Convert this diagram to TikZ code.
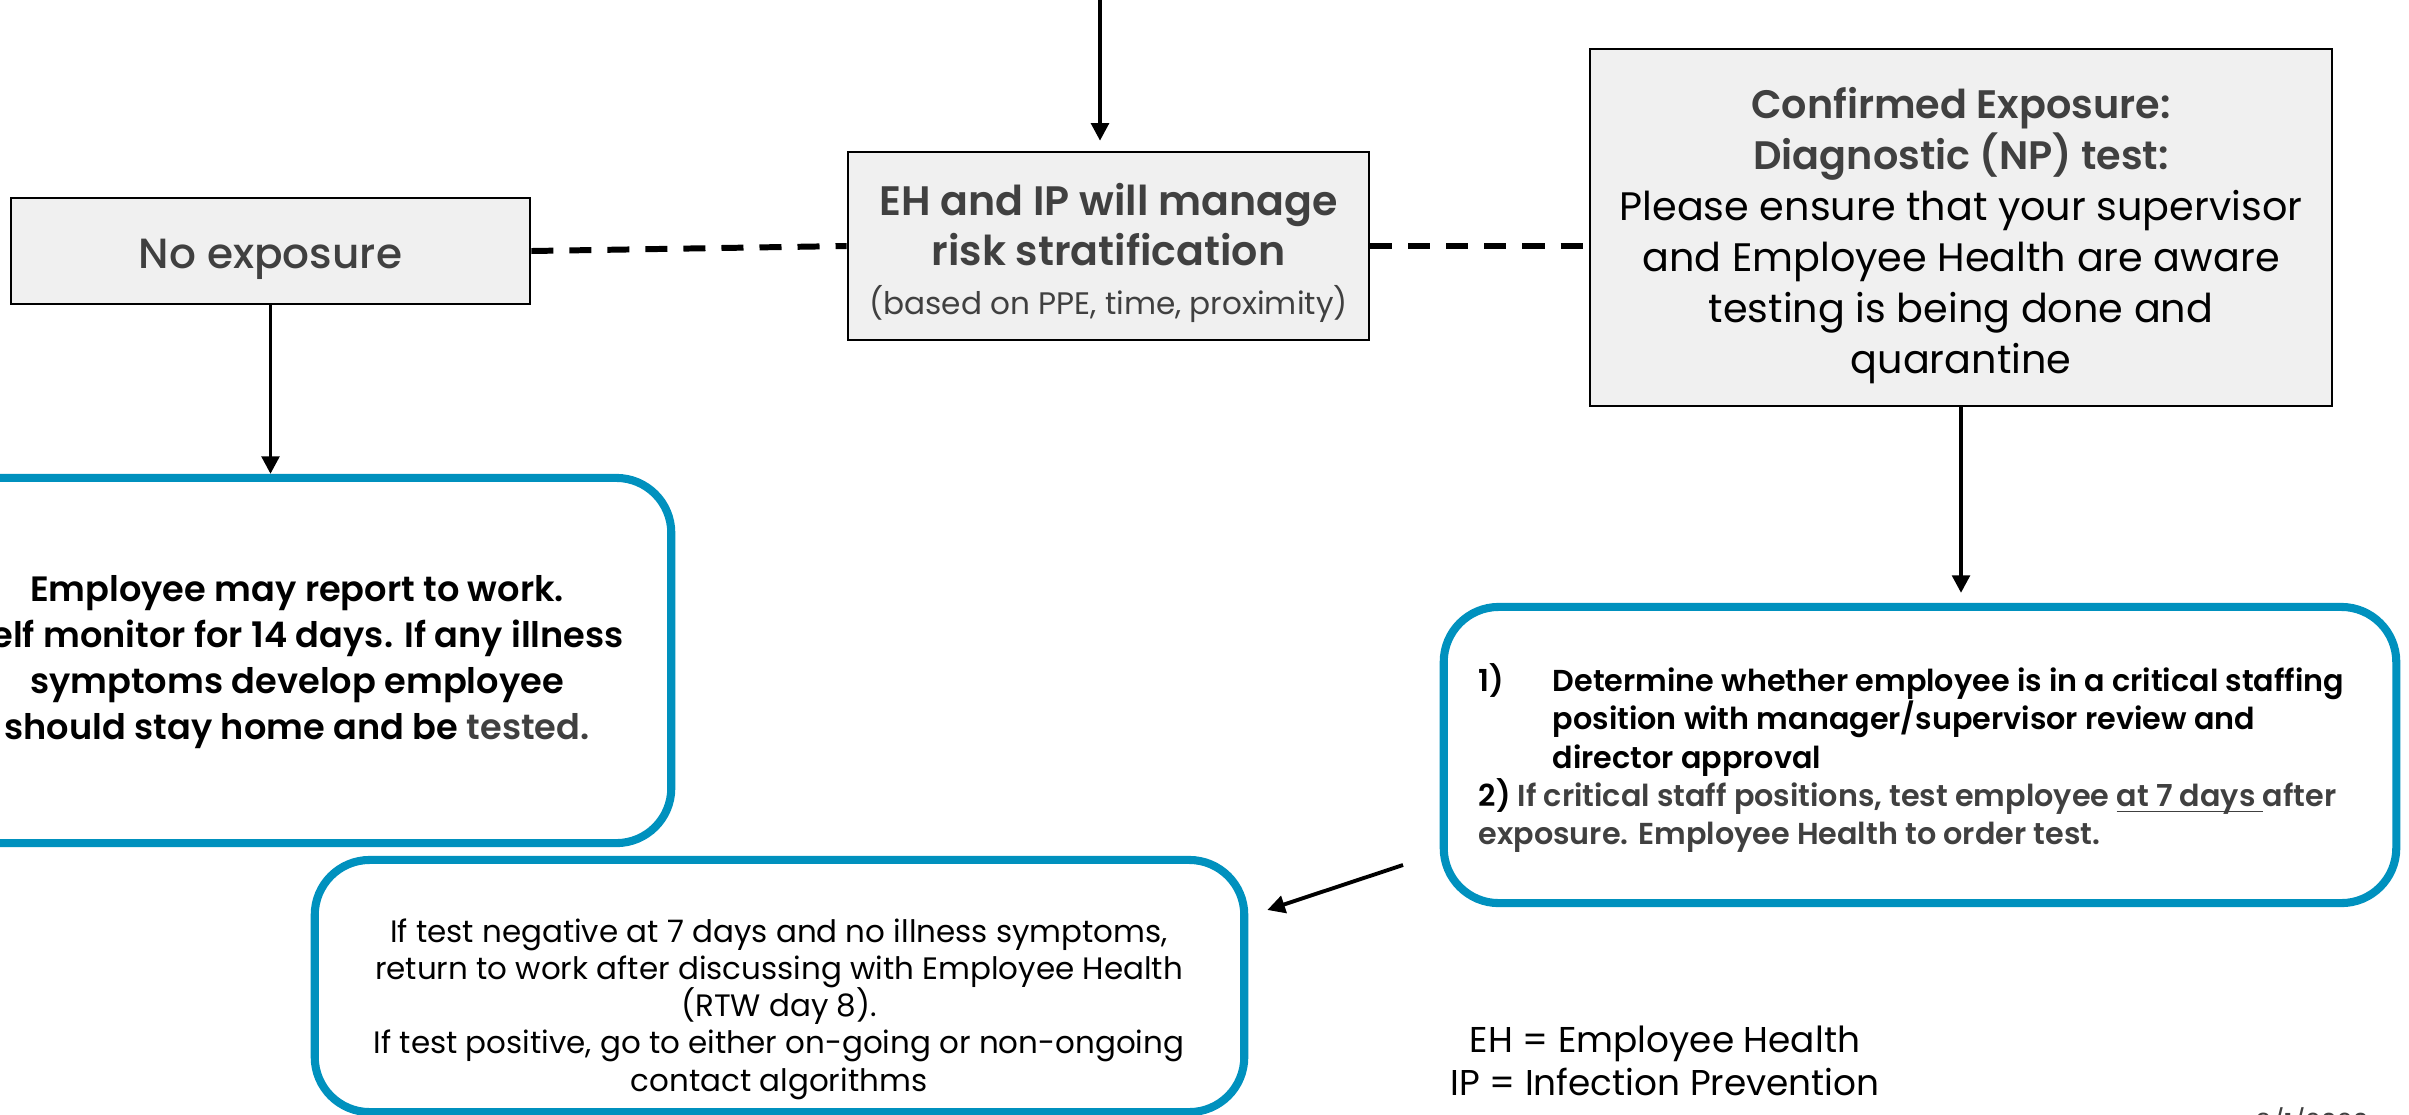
\documentclass[tikz,border=0pt]{standalone}
\usepackage{fontspec}
\setmainfont{Poppins}[BoldFont={Poppins SemiBold}]
\newfontfamily\popmed{Poppins Medium}
\usetikzlibrary{arrows.meta}
\definecolor{tgray}{RGB}{64,64,64}
\definecolor{boxfill}{RGB}{240,240,240}
\definecolor{cblue}{RGB}{0,145,190}
\newcommand\myul[1]{\setbox0\hbox{#1}\rlap{\rule[-1.8pt]{\wd0}{0.55pt}}\box0}
\begin{document}
\begin{tikzpicture}[x=0.01cm,y=-0.01cm,
  graybox/.style={draw=black,line width=0.7pt,fill=boxfill,inner sep=0pt},
  bluebox/.style={draw=cblue,line width=2.3pt,rounded corners=0.55cm,inner sep=0pt},
  txt/.style={inner sep=0pt,align=center},
  arr/.style={line width=1.1pt,-{Triangle[length=5pt,width=5pt]}},
  dashline/.style={line width=1.7pt,dash pattern=on 0.22cm off 0.16cm}]
\useasboundingbox (0,0) rectangle (2409,1114);
\clip (0,0) rectangle (2409,1114);

% gray boxes
\node[graybox,minimum width=5.19cm,minimum height=1.06cm] (noexp) at (270.5,251) {};
\node[txt,text=tgray,font=\fontsize{12}{15}\selectfont\popmed] (noexptxt) at (270.5,259) {No exposure};
\node[graybox,minimum width=5.21cm,minimum height=1.88cm] (eh) at (1108.5,246) {};
\node[txt,text=tgray,font=\fontsize{11.7}{14}\selectfont] (ehtxt) at (1108.5,253)
  {\bfseries EH and IP will manage\\
   \bfseries risk stratification\\
   \fontsize{8.85}{13.4}\selectfont (based on PPE, time, proximity)};
\node[graybox,minimum width=7.42cm,minimum height=3.57cm] (conf) at (1961,227.5) {};
\node[txt,font=\fontsize{11.3}{14.5}\selectfont] (conftxt) at (1961,236)
  {\textcolor{tgray}{\bfseries Confirmed Exposure:}\\
   \textcolor{tgray}{\bfseries Diagnostic (NP) test:}\\
   Please ensure that your supervisor\\
   and Employee Health are aware\\
   testing is being done and\\
   quarantine};

% blue boxes
\node[bluebox,minimum width=9.71cm,minimum height=3.65cm] (lbox) at (185.5,660.5) {};
\node[txt,font=\fontsize{10}{13}\selectfont\bfseries] (ltxt) at (297,662)
  {Employee may report to work.\\
   Self monitor for 14 days. If any illness\\
   symptoms develop employee\\
   should stay home and be \textcolor{tgray}{tested.}};

\node[bluebox,minimum width=9.52cm,minimum height=2.96cm] (rbox) at (1920,755) {};
\node[inner sep=0pt,anchor=west,align=left,font=\fontsize{8.6}{10.85}\selectfont\bfseries] (rtxt) at (1478,758)
  {\makebox[0.74cm][l]{1)}Determine whether employee is in a critical staffing\\
   \hspace*{0.74cm}position with manager/supervisor review and\\
   \hspace*{0.74cm}director approval\\
   2) \textcolor{tgray}{If critical staff positions, test employee \myul{at 7 days\ }after}\\
   \textcolor{tgray}{exposure. Employee Health to order test.}};

\node[bluebox,minimum width=9.29cm,minimum height=2.52cm] (bbox) at (779.5,986) {};
\node[txt,font=\fontsize{8.8}{10.6}\selectfont] (btxt) at (779,1009)
  {If test negative at 7 days and no illness symptoms,\\
   return to work after discussing with Employee Health\\
   (RTW day 8).\\
   If test positive, go to either on-going or non-ongoing\\
   contact algorithms};

% legend and date
\node[txt,font=\fontsize{10.2}{12.2}\selectfont] (leg) at (1665,1061)
  {EH = Employee Health\\ IP = Infection Prevention};
\node[inner sep=0pt,anchor=north,text=tgray,font=\fontsize{7.5}{9}\selectfont] (date) at (2312,1107) {9/1/2020};

% connectors
\coordinate (topin) at (1100,0);
\draw[arr,shorten >=0.1cm] (topin) -- (topin |- eh.north);
\draw[dashline] (noexp.east) -- (eh.west);
\draw[dashline] (eh.east) -- (eh.east -| conf.west);
\draw[arr] (noexp.south) -- (noexp.south |- lbox.north);
\draw[arr,shorten >=0.1cm] (conf.south) -- (conf.south |- rbox.north);
\coordinate (d1) at (1403,865);
\draw[arr] (d1) -- ([xshift=0.19cm,yshift=0.76cm]bbox.east);
\end{tikzpicture}
\end{document}
